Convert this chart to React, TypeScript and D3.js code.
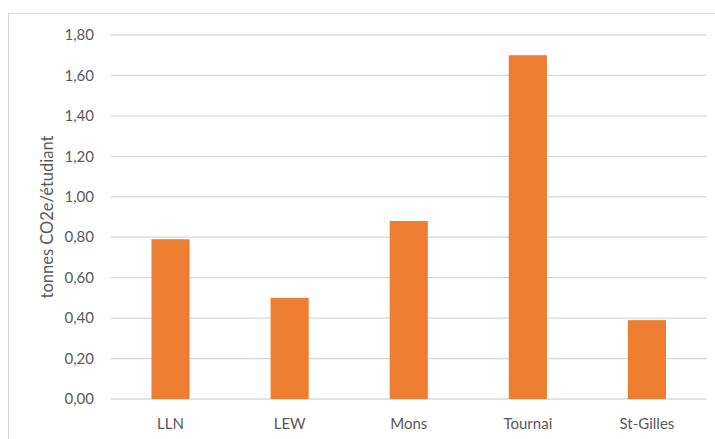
import React from 'react';
import * as d3 from 'd3';

// Emissions per student by campus
const campuses = ['LLN', 'LEW', 'Mons', 'Tournai', 'St-Gilles'];
const emissions = [0.79, 0.5, 0.88, 1.7, 0.39];
const yTicks = [0, 0.2, 0.4, 0.6, 0.8, 1.0, 1.2, 1.4, 1.6, 1.8];

const W = 715;
const H = 439;
const margin = { top: 35, right: 8.5, bottom: 40, left: 111 };

const fmt = (v: number) => v.toFixed(2).replace('.', ',');

const App = () => {
  const x = d3.scaleBand<string>()
    .domain(campuses)
    .range([margin.left, W - margin.right])
    .paddingInner(0.68)
    .paddingOuter(0.34);

  const y = d3.scaleLinear()
    .domain([0, 1.8])
    .range([H - margin.bottom, margin.top]);

  const font = 'Lato, "Open Sans", sans-serif';

  return (
    <svg width={W} height={H} style={{ position: 'absolute', left: 0, top: 0, background: '#fff' }}>
      <rect x={8.5} y={13.5} width={W} height={H} fill="#fff" stroke="#d9d9d9" strokeWidth={1} />

      {/* gridlines + y labels */}
      {yTicks.map(t => (
        <g key={t}>
          <line
            x1={margin.left}
            x2={W - margin.right}
            y1={y(t)}
            y2={y(t)}
            stroke="#d9d9d9"
            strokeWidth={1.3}
          />
          <text
            x={94}
            y={y(t)}
            dy="0.35em"
            textAnchor="end"
            fontFamily={font}
            fontSize={15}
            fill="#595959"
          >
            {fmt(t)}
          </text>
        </g>
      ))}

      {/* bars */}
      {campuses.map((c, i) => (
        <rect
          key={c}
          x={x(c)}
          y={y(emissions[i])}
          width={x.bandwidth()}
          height={y(0) - y(emissions[i])}
          fill="#ED7D31"
        />
      ))}

      {/* x labels */}
      {campuses.map(c => (
        <text
          key={c}
          x={(x(c) as number) + x.bandwidth() / 2}
          y={429}
          textAnchor="middle"
          fontFamily={font}
          fontSize={15}
          fill="#595959"
        >
          {c}
        </text>
      ))}

      <text
        transform={`translate(53, ${(y(0) + y(1.8)) / 2}) rotate(-90)`}
        textAnchor="middle"
        fontFamily={font}
        fontSize={16.5}
        fill="#595959"
      >
        tonnes CO2e/étudiant
      </text>
    </svg>
  );
};

export default App;
